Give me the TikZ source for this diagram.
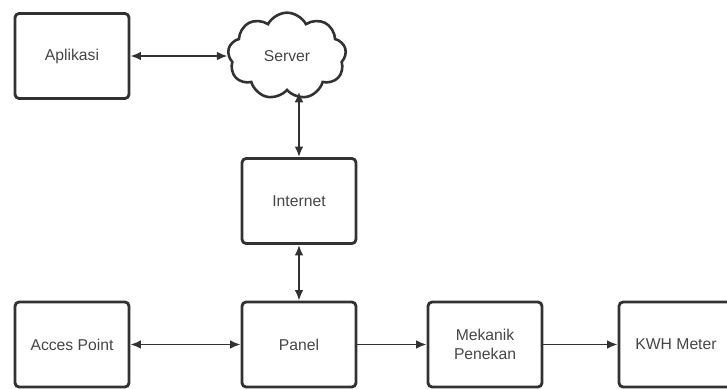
\documentclass[tikz,border=0pt]{standalone}
\usepackage{fontspec}
\setmainfont{Liberation Sans}
\usetikzlibrary{shapes.symbols,arrows.meta}
\begin{document}
\begin{tikzpicture}[x=0.03cm,y=-0.03cm,
    blok/.style={shape=rectangle,draw=garis,line width=2.4pt,rounded corners=3.5pt,minimum width=3.42cm,minimum height=2.55cm,text=teks,font=\fontsize{13.4}{16.5}\selectfont,align=center},
    awan/.style={shape=cloud,draw=garis,line width=2.2pt,cloud puffs=9,cloud puff arc=125,aspect=1.35,minimum width=3.55cm,minimum height=2.6cm,text=teks,font=\fontsize{13.4}{16.5}\selectfont},
    panah/.style={draw=garis,line width=1.6pt,-{Latex[length=9pt,width=7.5pt]}},
    panahdua/.style={panah,{Latex[length=9pt,width=7.5pt]}-{Latex[length=9pt,width=7.5pt]}}]
    \definecolor{garis}{RGB}{50,50,50}
    \definecolor{teks}{RGB}{70,70,70}
    \useasboundingbox (0,0) rectangle (727,388);
    \node[blok] (apl) at (72,56) {Aplikasi};
    \node[awan] (srv) at (287,56) {Server};
    \node[blok] (inet) at (299,201) {Internet};
    \node[blok] (ap) at (72,344.5) {Acces Point};
    \node[blok] (pnl) at (299,344.5) {Panel};
    \node[blok] (mek) at (485,344.5) {Mekanik\\Penekan};
    \node[blok] (kwh) at (676,344.5) {KWH Meter};
    \draw[panahdua] (apl) to (srv);
    \draw[panahdua] (inet) to (inet |- srv.south);
    \draw[panahdua] (inet) to (pnl);
    \draw[panahdua] (ap) to (pnl);
    \draw[panah] (pnl) to (mek);
    \draw[panah] (mek) to (kwh);
\end{tikzpicture}
\end{document}
